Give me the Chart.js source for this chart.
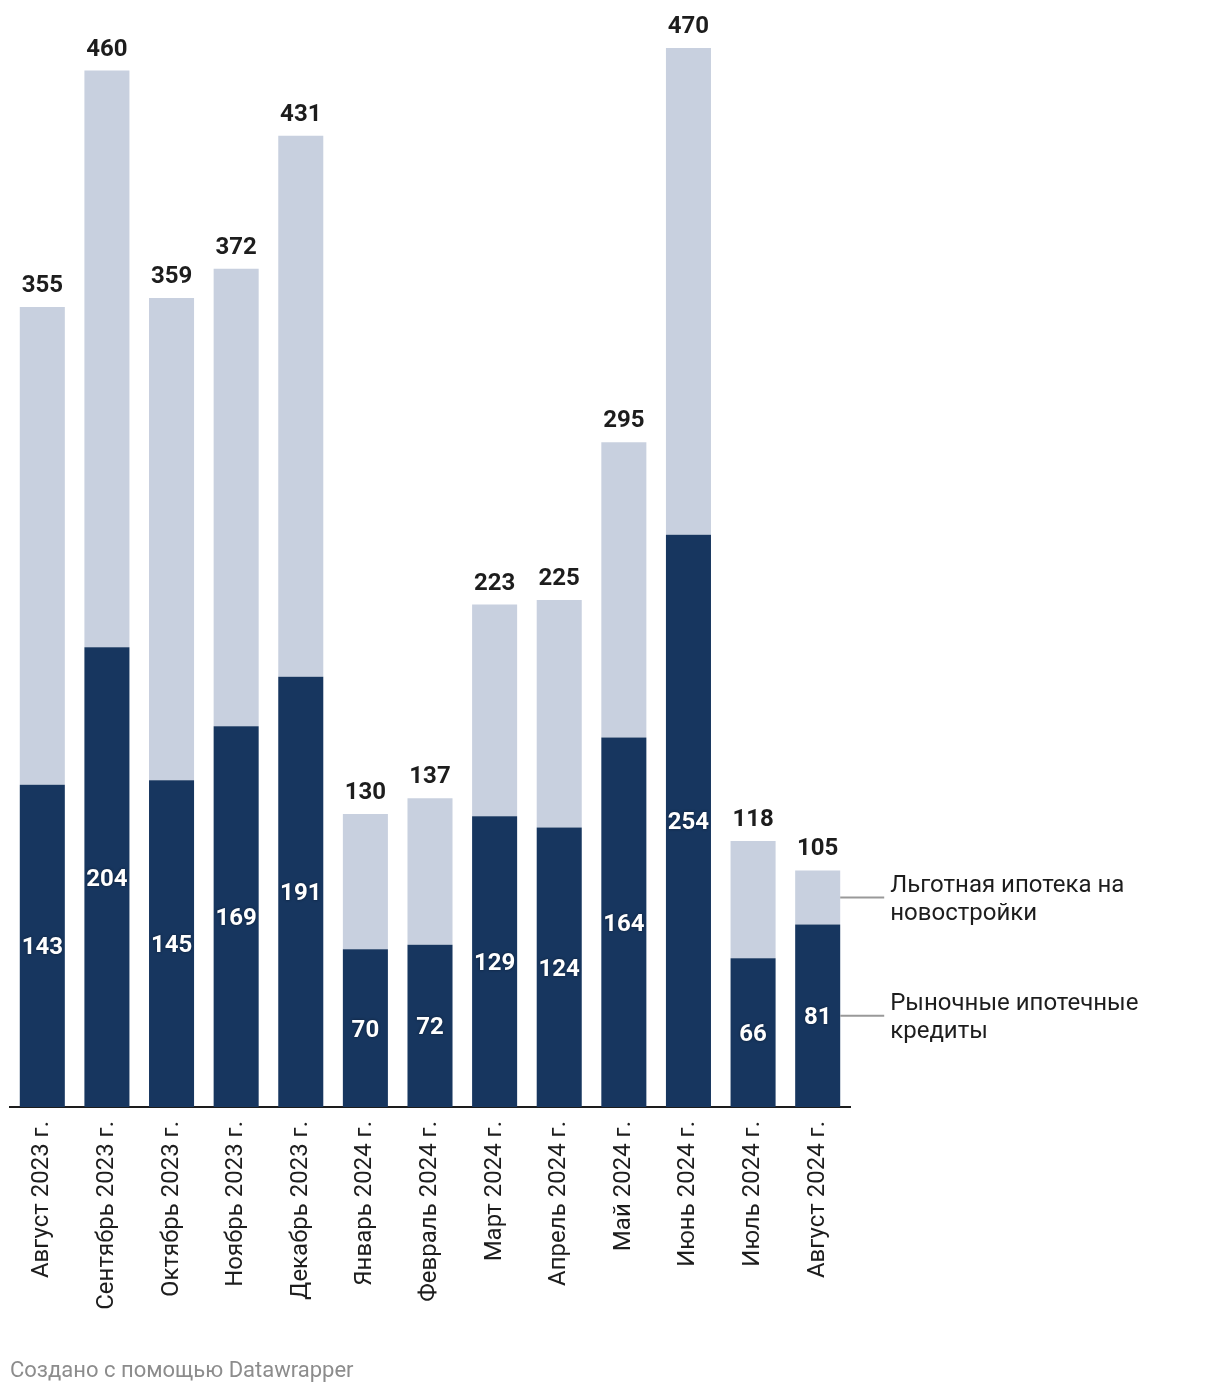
<!DOCTYPE html>
<html lang="ru">
<head>
<meta charset="utf-8">
<title>Ипотечные кредиты</title>
<script src="https://cdn.jsdelivr.net/npm/chart.js@4"></script>
<style>
  html, body { margin: 0; padding: 0; background: #fff; }
  #wrap { position: relative; width: 1220px; height: 1394px; }
  #footer { position: absolute; left: 10px; top: 1356px; font: 22px Roboto, sans-serif; color: #8c8c8c; line-height: 28px; }
</style>
</head>
<body>
<div id="wrap">
  <canvas id="chart" width="1220" height="1394"></canvas>
  <div id="footer">Создано с помощью Datawrapper</div>
</div>
<script>
// --- данные ---
const months = ['Август 2023 г.', 'Сентябрь 2023 г.', 'Октябрь 2023 г.', 'Ноябрь 2023 г.', 'Декабрь 2023 г.',
  'Январь 2024 г.', 'Февраль 2024 г.', 'Март 2024 г.', 'Апрель 2024 г.', 'Май 2024 г.', 'Июнь 2024 г.',
  'Июль 2024 г.', 'Август 2024 г.'];
const marketLoans = [143, 204, 145, 169, 191, 70, 72, 129, 124, 164, 254, 66, 81];
const preferentialLoans = [212, 256, 214, 203, 240, 60, 65, 94, 101, 131, 216, 52, 24];
const seriesNames = ['Рыночные ипотечные кредиты', 'Льготная ипотека на новостройки'];

const DARK = '#17365f';
const LIGHT = '#c8d0df';
const FONT = 'Roboto, sans-serif';

// подписи значений + подписи серий справа
const labelsPlugin = {
  id: 'labels',
  afterDatasetsDraw(chart) {
    const ctx = chart.ctx;
    const bottomMeta = chart.getDatasetMeta(0);
    const topMeta = chart.getDatasetMeta(1);
    ctx.save();
    ctx.textAlign = 'center';
    ctx.textBaseline = 'alphabetic';
    ctx.font = 'bold 24px ' + FONT;
    bottomMeta.data.forEach((bar, i) => {
      const cy = (bar.y + bar.base) / 2;
      ctx.save();
      ctx.shadowColor = 'rgba(0,0,0,0.45)';
      ctx.shadowBlur = 3;
      ctx.fillStyle = '#fff';
      ctx.fillText(String(marketLoans[i]), bar.x, cy + 8.5);
      ctx.restore();
      const top = topMeta.data[i];
      ctx.fillStyle = '#1d1d1d';
      ctx.fillText(String(marketLoans[i] + preferentialLoans[i]), top.x, top.y - 15);
    });

    // подписи у последнего столбца
    const last = months.length - 1;
    const lb = bottomMeta.data[last];
    const lt = topMeta.data[last];
    const right = lb.x + lb.width / 2;
    const rows = [
      { y: (lt.y + lt.base) / 2, lines: ['Льготная ипотека на', 'новостройки'] },
      { y: (lb.y + lb.base) / 2, lines: ['Рыночные ипотечные', 'кредиты'] }
    ];
    ctx.textAlign = 'left';
    ctx.textBaseline = 'alphabetic';
    ctx.font = '24px ' + FONT;
    rows.forEach(r => {
      ctx.strokeStyle = '#999';
      ctx.lineWidth = 2;
      ctx.beginPath();
      ctx.moveTo(right, r.y);
      ctx.lineTo(right + 44, r.y);
      ctx.stroke();
      ctx.fillStyle = '#1d1d1d';
      ctx.fillText(r.lines[0], right + 50, r.y - 14 + 8.5);
      ctx.fillText(r.lines[1], right + 50, r.y + 14 + 8.5);
    });
    ctx.restore();
  }
};

new Chart(document.getElementById('chart'), {
  type: 'bar',
  data: {
    labels: months,
    datasets: [
      { label: seriesNames[0], data: marketLoans, backgroundColor: DARK },
      { label: seriesNames[1], data: preferentialLoans, backgroundColor: LIGHT }
    ]
  },
  options: {
    responsive: false,
    animation: false,
    events: [],
    layout: { padding: { top: 48, left: 10, right: 370, bottom: 0 } },
    datasets: { bar: { categoryPercentage: 1, barPercentage: 0.697 } },
    plugins: { legend: { display: false }, tooltip: { enabled: false } },
    scales: {
      x: {
        stacked: true,
        grid: { display: true, drawOnChartArea: false, drawTicks: false, color: 'transparent' },
        border: { display: true, color: '#1d1d1d', width: 2 },
        ticks: {
          minRotation: 90, maxRotation: 90, autoSkip: false, padding: 14,
          color: '#1d1d1d', font: { family: FONT, size: 24 }
        },
        afterFit: s => { s.height = 287; }
      },
      y: { stacked: true, display: false, min: 0, max: 470 }
    }
  },
  plugins: [labelsPlugin]
});
</script>
</body>
</html>
